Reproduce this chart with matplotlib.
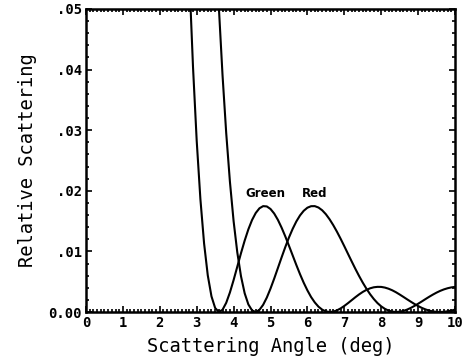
import numpy as np
import matplotlib
matplotlib.use("Agg")
import matplotlib.pyplot as plt
from matplotlib.ticker import MultipleLocator, FixedFormatter, FixedLocator

# scattering angle samples (deg), 2.7 .. 10.0 in steps of 0.1
angle = np.linspace(2.7, 10.0, 74)

green = [0.07309, 0.05530, 0.04042, 0.02826, 0.01864, 0.01132, 0.00605, 0.00259,
         0.00066, 0.00001, 0.00037, 0.00152, 0.00322, 0.00527, 0.00748, 0.00970,
         0.01178, 0.01364, 0.01518, 0.01634, 0.01711, 0.01747, 0.01742, 0.01700,
         0.01625, 0.01521, 0.01393, 0.01249, 0.01094, 0.00935, 0.00776, 0.00624,
         0.00483, 0.00357, 0.00247, 0.00158, 0.00088, 0.00039, 0.00010, 0.00000,
         0.00006, 0.00027, 0.00059, 0.00100, 0.00146, 0.00195, 0.00244, 0.00290,
         0.00331, 0.00365, 0.00391, 0.00408, 0.00415, 0.00414, 0.00403, 0.00384,
         0.00358, 0.00326, 0.00289, 0.00250, 0.00210, 0.00171, 0.00133, 0.00099,
         0.00068, 0.00043, 0.00023, 0.00010, 0.00002, 0.00000, 0.00003, 0.00012,
         0.00024, 0.00039]

# relative scattering for the red wavelength
red = [0.23622, 0.20792, 0.18146, 0.15691, 0.13429, 0.11364, 0.09495, 0.07820,
       0.06334, 0.05033, 0.03908, 0.02951, 0.02152, 0.01500, 0.00984, 0.00591,
       0.00309, 0.00125, 0.00026, 0.00000, 0.00035, 0.00118, 0.00238, 0.00386,
       0.00551, 0.00725, 0.00900, 0.01070, 0.01229, 0.01371, 0.01494, 0.01594,
       0.01670, 0.01721, 0.01746, 0.01747, 0.01724, 0.01679, 0.01614, 0.01531,
       0.01434, 0.01326, 0.01209, 0.01086, 0.00960, 0.00835, 0.00712, 0.00595,
       0.00485, 0.00384, 0.00293, 0.00214, 0.00147, 0.00093, 0.00052, 0.00023,
       0.00006, 0.00000, 0.00005, 0.00018, 0.00039, 0.00067, 0.00100, 0.00136,
       0.00174, 0.00213, 0.00251, 0.00287, 0.00320, 0.00349, 0.00373, 0.00392,
       0.00406, 0.00414]

xticks = list(range(0, 11))
yticks = [0.0, 0.01, 0.02, 0.03, 0.04, 0.05]
ytick_labels = ["0.00", ".01", ".02", ".03", ".04", ".05"]

mono = "DejaVu Sans Mono"

fig = plt.figure(figsize=(4.63, 3.62), dpi=100)
ax = fig.add_axes([86 / 463, 1 - 312 / 362, 369 / 463, 303 / 362])

ax.plot(angle, green, color="black", lw=1.5)
ax.plot(angle, red, color="black", lw=1.5)

# curve names sit just above each first side lobe
ax.text(4.86, 0.0196, "Green", ha="center", va="center", fontsize=8.5,
        fontweight="bold", family="DejaVu Sans")
ax.text(6.2, 0.0196, "Red", ha="center", va="center", fontsize=8.5,
        fontweight="bold", family="DejaVu Sans")

ax.set_xlim(0, 10)
ax.set_ylim(0, 0.05)

ax.xaxis.set_major_locator(FixedLocator(xticks))
ax.xaxis.set_minor_locator(MultipleLocator(0.1))
ax.yaxis.set_major_locator(FixedLocator(yticks))
ax.yaxis.set_major_formatter(FixedFormatter(ytick_labels))
ax.yaxis.set_minor_locator(MultipleLocator(0.002))

ax.tick_params(which="both", direction="in", top=True, right=True, width=1.2)
ax.tick_params(which="major", length=4.5, pad=3)
ax.tick_params(which="minor", length=2)
for lbl in ax.get_xticklabels() + ax.get_yticklabels():
    lbl.set_family(mono)
    lbl.set_fontweight("bold")
    lbl.set_fontsize(10)

for sp in ax.spines.values():
    sp.set_linewidth(1.8)

ax.set_xlabel("Scattering Angle (deg)", family=mono, fontsize=13.5, labelpad=5)
ax.set_ylabel("Relative Scattering", family=mono, fontsize=13.5, labelpad=8)

fig.savefig("out.png", dpi=100)
